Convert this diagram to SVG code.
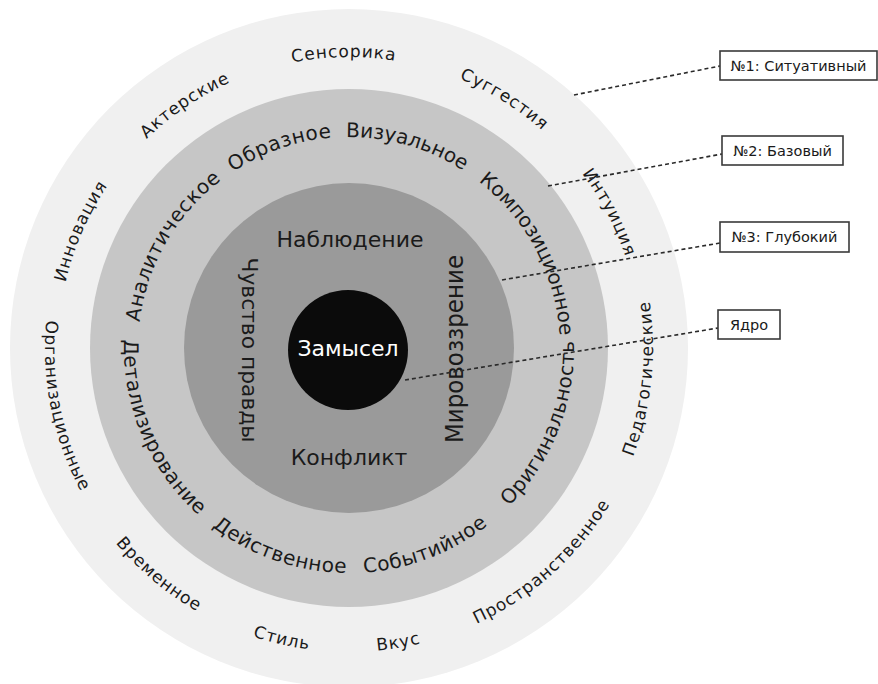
<svg xmlns="http://www.w3.org/2000/svg" xmlns:xlink="http://www.w3.org/1999/xlink" width="878" height="684" viewBox="0 0 878 684">
<style>
text{font-family:"DejaVu Sans","Liberation Sans",sans-serif;fill:#1a1a1a}
.outer{font-size:17px;letter-spacing:0.9px}
.mid{font-size:20px;letter-spacing:0.6px}
.inner{font-size:22px}
.box{fill:#fff;stroke:#3a3a3a;stroke-width:1.6}
.btxt{font-size:14.5px}
.lead{fill:none;stroke:#2a2a2a;stroke-width:1.6;stroke-dasharray:4 3}
</style>
<defs>
<path id="p1" d="M187.4,483.6 A211,211 0 0 1 385.6,140.2"/>
<path id="p2" d="M138.0,344.3 A211,211 0 0 1 513.0,215.2"/>
<path id="p3" d="M178.3,224.0 A211,211 0 0 1 559.5,333.3"/>
<path id="p4" d="M321.5,138.8 A211,211 0 0 1 505.8,489.2"/>
<path id="p5" d="M343.1,572.9 A225,225 0 0 0 497.2,178.7"/>
<path id="p6" d="M179.2,495.6 A225,225 0 0 0 574.0,344.1"/>
<path id="p7" d="M124.0,351.9 A225,225 0 0 0 523.8,489.6"/>
<path id="p8" d="M195.6,183.4 A225,225 0 0 0 360.8,572.7"/>
<path id="q1" d="M148.7,559.1 A291,291 0 0 1 366.8,57.6"/>
<path id="q2" d="M66.6,418.4 A291,291 0 0 1 520.0,112.6"/>
<path id="q3" d="M73.9,253.3 A291,291 0 0 1 620.7,243.7"/>
<path id="q4" d="M169.8,118.7 A291,291 0 0 1 633.6,408.5"/>
<path id="q5" d="M311.0,59.5 A291,291 0 0 1 563.6,544.6"/>
<path id="q6" d="M422.5,643.0 A304,304 0 0 0 482.3,74.8"/>
<path id="q7" d="M206.3,616.4 A304,304 0 0 0 630.9,234.1"/>
<path id="q8" d="M84.4,497.7 A304,304 0 0 0 647.9,403.4"/>
<path id="q9" d="M47.3,385.1 A304,304 0 0 0 604.0,513.6"/>
<path id="q10" d="M63.3,244.0 A304,304 0 0 0 501.0,611.3"/>
<path id="q11" d="M190.2,88.8 A304,304 0 0 0 304.1,648.7"/>
</defs>
<rect width="878" height="684" fill="#fff"/>
<g id="ring1">
<circle cx="349" cy="348" r="339" fill="#f0f0f0"/>
<text class="outer"><textPath xlink:href="#q1" href="#q1" startOffset="50%" text-anchor="middle">Инновация</textPath></text>
<text class="outer"><textPath xlink:href="#q2" href="#q2" startOffset="50%" text-anchor="middle">Актерские</textPath></text>
<text class="outer"><textPath xlink:href="#q3" href="#q3" startOffset="50%" text-anchor="middle">Сенсорика</textPath></text>
<text class="outer"><textPath xlink:href="#q4" href="#q4" startOffset="50%" text-anchor="middle">Суггестия</textPath></text>
<text class="outer"><textPath xlink:href="#q5" href="#q5" startOffset="50%" text-anchor="middle">Интуиция</textPath></text>
<text class="outer"><textPath xlink:href="#q6" href="#q6" startOffset="50%" text-anchor="middle">Педагогические</textPath></text>
<text class="outer"><textPath xlink:href="#q7" href="#q7" startOffset="50%" text-anchor="middle">Пространственное</textPath></text>
<text class="outer"><textPath xlink:href="#q8" href="#q8" startOffset="50%" text-anchor="middle">Вкус</textPath></text>
<text class="outer"><textPath xlink:href="#q9" href="#q9" startOffset="50%" text-anchor="middle">Стиль</textPath></text>
<text class="outer"><textPath xlink:href="#q10" href="#q10" startOffset="50%" text-anchor="middle">Временное</textPath></text>
<text class="outer"><textPath xlink:href="#q11" href="#q11" startOffset="50%" text-anchor="middle">Организационные</textPath></text>
</g>
<g id="ring2">
<circle cx="349" cy="348" r="259" fill="#c6c6c6"/>
<text class="mid"><textPath xlink:href="#p1" href="#p1" startOffset="50%" text-anchor="middle">Аналитическое</textPath></text>
<text class="mid"><textPath xlink:href="#p2" href="#p2" startOffset="50%" text-anchor="middle">Образное</textPath></text>
<text class="mid" style="letter-spacing:0"><textPath xlink:href="#p3" href="#p3" startOffset="50%" text-anchor="middle">Визуальное</textPath></text>
<text class="mid" style="letter-spacing:0"><textPath xlink:href="#p4" href="#p4" startOffset="50%" text-anchor="middle">Композиционное</textPath></text>
<text class="mid"><textPath xlink:href="#p5" href="#p5" startOffset="50%" text-anchor="middle">Оригинальность</textPath></text>
<text class="mid"><textPath xlink:href="#p6" href="#p6" startOffset="50%" text-anchor="middle">Событийное</textPath></text>
<text class="mid"><textPath xlink:href="#p7" href="#p7" startOffset="50%" text-anchor="middle">Действенное</textPath></text>
<text class="mid"><textPath xlink:href="#p8" href="#p8" startOffset="50%" text-anchor="middle">Детализирование</textPath></text>
</g>
<g id="ring3">
<circle cx="349" cy="348" r="165" fill="#9a9a9a"/>
<text class="inner" x="350" y="247" text-anchor="middle">Наблюдение</text>
<text class="inner" x="349" y="465" text-anchor="middle">Конфликт</text>
<text class="inner" transform="translate(242,350) rotate(90)" text-anchor="middle" textLength="185" lengthAdjust="spacingAndGlyphs">Чувство правды</text>
<text class="inner" style="font-size:25px" transform="translate(463,349) rotate(-90)" text-anchor="middle" textLength="188" lengthAdjust="spacingAndGlyphs">Мировоззрение</text>
</g>
<g id="core">
<circle cx="348" cy="350" r="60" fill="#0b0b0b"/>
<text x="348" y="356" text-anchor="middle" style="font-size:22px;fill:#fff">Замысел</text>
</g>
<g id="connectors">
<line class="lead" x1="574" y1="95" x2="720" y2="66"/>
<line class="lead" x1="548" y1="186" x2="722" y2="154"/>
<line class="lead" x1="502" y1="280" x2="720" y2="243"/>
<line class="lead" x1="405" y1="380" x2="718" y2="328"/>
</g>
<g id="label1">
<rect class="box" x="720" y="51" width="157" height="29"/>
<text class="btxt" x="798.5" y="71" text-anchor="middle">№1: Ситуативный</text>
</g>
<g id="label2">
<rect class="box" x="722" y="136" width="121" height="29"/>
<text class="btxt" x="782.5" y="156" text-anchor="middle">№2: Базовый</text>
</g>
<g id="label3">
<rect class="box" x="720" y="222" width="129" height="30"/>
<text class="btxt" x="784.5" y="242" text-anchor="middle">№3: Глубокий</text>
</g>
<g id="label4">
<rect class="box" x="718" y="310" width="62" height="29"/>
<text class="btxt" x="749" y="330" text-anchor="middle">Ядро</text>
</g>
</svg>
